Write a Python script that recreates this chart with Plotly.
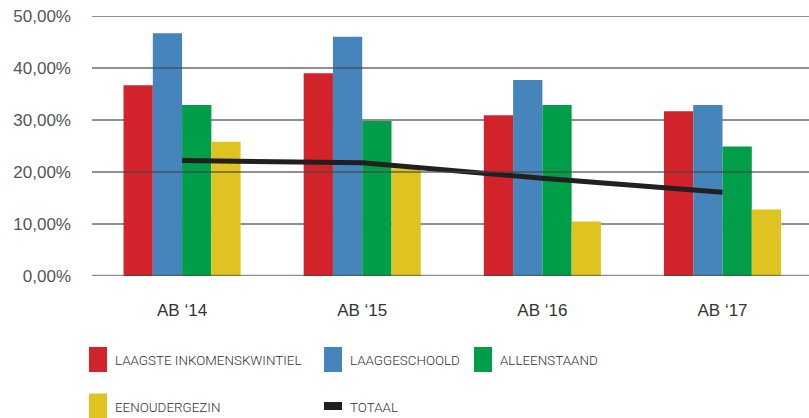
import plotly.graph_objects as go

# ---------------- data ----------------
categories = ["AB ‘14", "AB ‘15", "AB ‘16", "AB ‘17"]
laagste_inkomenskwintiel = [36.7, 39.0, 30.9, 31.7]
laaggeschoold = [46.7, 46.0, 37.7, 32.9]
alleenstaand = [32.9, 29.8, 32.9, 24.9]
eenoudergezin = [25.8, 20.7, 10.5, 12.8]
totaal = [22.2, 21.8, 18.8, 16.1]

y_tickvals = [0, 10, 20, 30, 40, 50]
y_ticktext = ["0,00%", "10,00%", "20,00%", "30,00%", "40,00%", "50,00%"]

series_names = ["LAAGSTE INKOMENSKWINTIEL", "LAAGGESCHOOLD", "ALLEENSTAAND", "EENOUDERGEZIN"]
series_values = [laagste_inkomenskwintiel, laaggeschoold, alleenstaand, eenoudergezin]
series_colors = ["#d2232a", "#4585bb", "#009e49", "#dfc421"]
total_name = "TOTAAL"
total_color = "#231f20"

# ---------------- layout geometry (pixels) ----------------
W, H = 809, 418
ML, MR, MT, MB = 92, 0, 16, 142
PW, PH = W - ML - MR, H - MT - MB


def px_x(px):
    return (px - ML) / PW


def px_y(py):
    return (H - MB - py) / PH


fig = go.Figure()
for name, vals, col in zip(series_names, series_values, series_colors):
    fig.add_trace(go.Bar(x=categories, y=vals, name=name, marker=dict(color=col, line=dict(width=0)),
                         showlegend=False))

fig.add_trace(go.Scatter(x=categories, y=totaal, name=total_name, mode="lines",
                         line=dict(color=total_color, width=5), showlegend=False))

shapes = []
# dark gridlines behind bars
for v in [10, 30, 50]:
    shapes.append(dict(type="line", xref="paper", yref="y", x0=0, x1=1, y0=v, y1=v,
                       line=dict(color="#231f20", width=1), layer="below"))
# grey translucent lines above bars
for v, wdt in [(0, 2.5), (20, 2), (40, 2)]:
    shapes.append(dict(type="line", xref="paper", yref="y", x0=0, x1=1, y0=v, y1=v,
                       line=dict(color="rgba(70,70,70,0.6)", width=wdt), layer="above"))

# manual legend
legend_slots = [(89, 359.5), (324, 359.5), (474, 359.5), (89, 406), (324, 406)]
legend_names = series_names + [total_name]
legend_colors = series_colors + [total_color]
annotations = []
for (lx, ly), nm, col in zip(legend_slots, legend_names, legend_colors):
    hh = 25 if nm != total_name else 8
    shapes.append(dict(type="rect", xref="paper", yref="paper",
                       x0=px_x(lx), x1=px_x(lx + 18), y0=px_y(ly - hh / 2), y1=px_y(ly + hh / 2),
                       fillcolor=col, line=dict(width=0), layer="above"))
    annotations.append(dict(xref="paper", yref="paper", x=px_x(lx + 24), y=px_y(ly + 1),
                            xanchor="left", yanchor="middle", showarrow=False, text=nm,
                            font=dict(family="Roboto, sans-serif", weight=300,
                                      size=13.4, color="#333333")))

fig.update_layout(
    width=W, height=H,
    margin=dict(l=ML, r=MR, t=MT, b=MB, pad=0),
    paper_bgcolor="white", plot_bgcolor="white",
    barmode="group", bargap=0.35, bargroupgap=0,
    showlegend=False,
    shapes=shapes, annotations=annotations,
    font=dict(family="Liberation Sans, Arial, sans-serif"),
    xaxis=dict(range=[-0.5, 3.48], showgrid=False, zeroline=False, showline=False,
               ticks="", tickfont=dict(size=17, color="#333333"), ticklabelstandoff=22,
               fixedrange=True),
    yaxis=dict(range=[0, 50], tickvals=y_tickvals, ticktext=y_ticktext, showgrid=False,
               zeroline=False, showline=False, ticks="",
               tickfont=dict(size=17, color="#555555"), ticklabelstandoff=20, fixedrange=True),
)

fig.write_html("out.html", config={"displayModeBar": False},
               post_script="document.body.style.margin='0';document.body.style.overflow='hidden';")
